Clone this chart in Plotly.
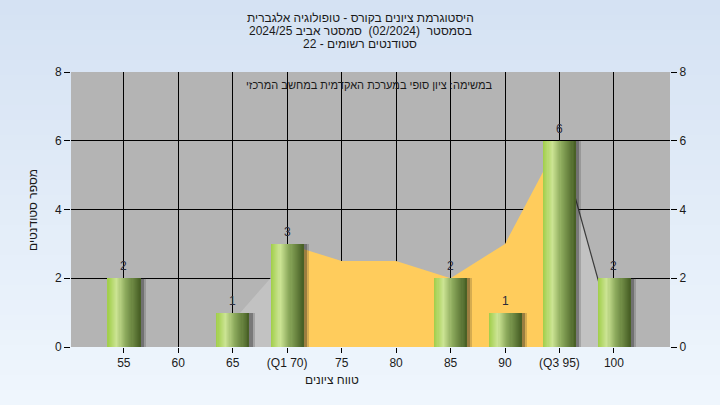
import plotly.graph_objects as go

# ---------------- data ----------------
categories = [55, 60, 65, 70, 75, 80, 85, 90, 95, 100]
tick_labels = ["55", "60", "65", "(Q1 70)", "75", "80", "85", "90", "(Q3 95)", "100"]
counts = [2, 0, 1, 3, 0, 0, 2, 1, 6, 2]

# distribution band between quartiles (yellow) and tails (light gray)
band_x = [70, 75, 80, 85, 90, 95]
band_y = [3, 2.5, 2.5, 2, 3, 6]
tail_left_x = [65, 70]
tail_left_y = [0.75, 2.55]
tail_right_x = [95, 100]
tail_right_y = [6, 0.3]

y_ticks = [0, 2, 4, 6, 8]

title_lines = [
    "היסטוגרמת ציונים בקורס - טופולוגיה אלגברית",
    "בסמסטר  (02/2024)  סמסטר אביב 2024/25",
    "סטודנטים רשומים - 22",
]
note_text = "במשימה: ציון סופי במערכת האקדמית במחשב המרכזי"
x_title = "טווח ציונים"
y_title = "מספר סטודנטים"

# ---------------- layout geometry ----------------
W, H = 720, 405
L, R, T, B = 71, 50, 72, 58
PW, PH = W - L - R, H - T - B


def px_x(px):
    return (px - L) / PW


def px_y(py):
    return (H - B - py) / PH


BAR_W = 3.0
N_STRIPS = 30


def lerp(c1, c2, t):
    return tuple(round(a + (b - a) * t) for a, b in zip(c1, c2))


def strip_color(t):
    stops = [(0.0, (160, 206, 72)), (0.28, (204, 228, 148)), (0.55, (140, 170, 92)), (1.0, (70, 94, 36))]
    for (t0, c0), (t1, c1) in zip(stops, stops[1:]):
        if t <= t1:
            return "rgb(%d,%d,%d)" % lerp(c0, c1, (t - t0) / (t1 - t0))
    return "rgb(%d,%d,%d)" % stops[-1][1]


fig = go.Figure()

# areas (lowest z-order)
fig.add_trace(go.Scatter(x=tail_left_x, y=tail_left_y, mode="lines", fill="tozeroy",
                         fillcolor="#c2c2c2", line=dict(width=0), hoverinfo="skip",
                         showlegend=False, zorder=0))
fig.add_trace(go.Scatter(x=band_x, y=band_y, mode="lines", fill="tozeroy",
                         fillcolor="#ffcc5c", line=dict(width=0), hoverinfo="skip",
                         showlegend=False, zorder=0))
fig.add_trace(go.Scatter(x=tail_right_x, y=tail_right_y, mode="lines", fill="tozeroy",
                         fillcolor="#c2c2c2", line=dict(width=1.2, color="#3a3a3a"),
                         hoverinfo="skip", showlegend=False, zorder=0))

bx = [c for c, n in zip(categories, counts) if n > 0]
by = [n for n in counts if n > 0]

# soft shadow
for off, alpha in [(0.5, 0.18), (0.32, 0.32)]:
    fig.add_trace(go.Bar(x=bx, y=by, width=BAR_W, offset=-BAR_W / 2 + off,
                         marker=dict(color="rgba(30,30,30,%.2f)" % alpha, line=dict(width=0)),
                         hoverinfo="skip", showlegend=False, zorder=1))

# gradient bars: each strip runs to the right edge, later strips cover earlier ones
sw = BAR_W / N_STRIPS
for i in range(N_STRIPS):
    t = (i + 0.5) / N_STRIPS
    fig.add_trace(go.Bar(x=bx, y=by, width=BAR_W - i * sw, offset=-BAR_W / 2 + i * sw,
                         marker=dict(color=strip_color(t), line=dict(width=0)),
                         hoverinfo="skip", showlegend=False, zorder=2))

# invisible trace for the right axis
fig.add_trace(go.Scatter(x=[categories[0]], y=[0], yaxis="y2", mode="markers",
                         marker=dict(opacity=0), hoverinfo="skip", showlegend=False))

# background gradient bands
shapes = []
N_BANDS = 27
top_c, bot_c = (213, 226, 243), (239, 246, 253)
for i in range(N_BANDS):
    y0 = H * i / N_BANDS
    y1 = H * (i + 1) / N_BANDS + 1
    c = lerp(top_c, bot_c, i / (N_BANDS - 1))
    shapes.append(dict(type="rect", xref="paper", yref="paper", layer="below",
                       x0=px_x(0), x1=px_x(W), y0=px_y(y1), y1=px_y(y0),
                       fillcolor="rgb(%d,%d,%d)" % c, line=dict(width=0)))
shapes.append(dict(type="rect", xref="paper", yref="paper", layer="below",
                   x0=0, x1=1, y0=0, y1=1, fillcolor="#b4b4b4", line=dict(width=0)))

annotations = []
# value labels above bars
for xv, yv in zip(bx, by):
    annotations.append(dict(text=str(yv), x=xv, y=yv, xref="x", yref="y", yshift=12,
                            xanchor="center", yanchor="middle", showarrow=False,
                            font=dict(size=12, color="#2a2a3a", family="Arial")))
for i, line in enumerate(title_lines):
    annotations.append(dict(text=line, xref="paper", yref="paper", x=px_x(360), y=px_y(18 + 13 * i),
                            xanchor="center", yanchor="middle", showarrow=False,
                            font=dict(size=12, color="#1a1a1a", family="Arial")))
annotations.append(dict(text=note_text, xref="paper", yref="paper", x=px_x(369), y=px_y(85),
                        xanchor="center", yanchor="middle", showarrow=False,
                        font=dict(size=11, color="#1a1a1a", family="Arial")))
annotations.append(dict(text=x_title, xref="paper", yref="paper", x=px_x(332), y=px_y(380),
                        xanchor="center", yanchor="middle", showarrow=False,
                        font=dict(size=12, color="#1a1a1a", family="Arial")))
annotations.append(dict(text=y_title, xref="paper", yref="paper", x=px_x(33), y=px_y(210),
                        xanchor="center", yanchor="middle", showarrow=False, textangle=-90,
                        font=dict(size=12, color="#1a1a1a", family="Arial")))

fig.update_layout(
    width=W, height=H,
    margin=dict(l=L, r=R, t=T, b=B, pad=0),
    paper_bgcolor="#e4edf8",
    plot_bgcolor="rgba(0,0,0,0)",
    barmode="overlay",
    bargap=0,
    showlegend=False,
    shapes=shapes,
    annotations=annotations,
    xaxis=dict(range=[50.15, 105.15], tickmode="array", tickvals=categories, ticktext=tick_labels,
               showgrid=True, gridcolor="#000000", gridwidth=1, zeroline=False,
               showline=True, linecolor="#000000", linewidth=1,
               ticks="outside", ticklen=5, tickcolor="#000000",
               tickfont=dict(size=12, color="#1a1a1a", family="Arial"),
               fixedrange=True),
    yaxis=dict(range=[0, 8], tickmode="array", tickvals=y_ticks,
               showgrid=True, gridcolor="#000000", gridwidth=1, zeroline=False,
               showline=True, linecolor="#000000", linewidth=1,
               ticks="outside", ticklen=6, tickcolor="#000000",
               tickfont=dict(size=12, color="#1a1a1a", family="Arial"),
               fixedrange=True),
    yaxis2=dict(range=[0, 8], tickmode="array", tickvals=y_ticks, overlaying="y", side="right",
                showgrid=False, zeroline=False, showline=True, linecolor="#000000", linewidth=1,
                ticks="outside", ticklen=6, tickcolor="#000000",
                tickfont=dict(size=12, color="#1a1a1a", family="Arial"), fixedrange=True),
)

fig.write_html("out.html", config={"displayModeBar": False},
               post_script="document.body.style.margin='0px';")
